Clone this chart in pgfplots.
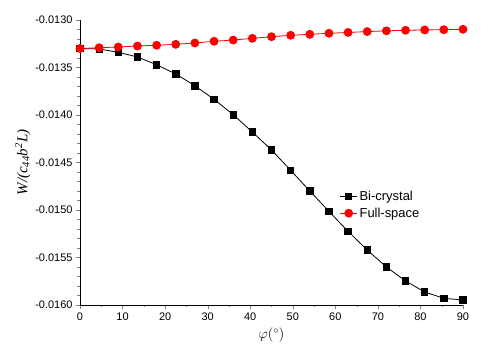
\documentclass[border=0pt]{standalone}
\usepackage{fontspec}
\setmainfont{Liberation Sans}
\newfontfamily\tnr{Liberation Serif}
\usepackage{pgfplots}
\pgfplotsset{compat=1.18}
\usetikzlibrary{calc}
\begin{document}
\begin{tikzpicture}
\begin{axis}[
  name=ax,
  scale only axis,
  width=383bp, height=285bp,
  xmin=0, xmax=90, ymin=-0.0160, ymax=-0.0130,
  axis x line*=bottom, axis y line*=left,
  tick align=outside,
  xtick={0,10,...,90},
  ytick={-0.0160,-0.0155,-0.0150,-0.0145,-0.0140,-0.0135,-0.0130},
  minor x tick num=1,
  minor y tick num=4,
  major tick length=4bp, minor tick length=2.5bp,
  scaled y ticks=false,
  yticklabel style={/pgf/number format/.cd,fixed,fixed zerofill,precision=4},
  /pgf/number format/assume math mode=true,
  tick label style={font=\fontsize{11}{13}\selectfont},
  xlabel={$\varphi(^\circ)$},
  ylabel={{\tnr\itshape W/(c\textsubscript{44}b\textsuperscript{2}L)}},
  xlabel style={font=\fontsize{14}{16}\selectfont, yshift=-1bp},
  ylabel style={font=\fontsize{15}{17}\selectfont, yshift=-2bp},
  legend style={draw=none, fill=none, at={(0.67,0.415)}, anchor=north west, font=\fontsize{13}{15}\selectfont, row sep=2bp},
  legend cell align=left,
  clip=false,
]
\addplot[black, line width=0.8pt, mark=square*, mark size=3.2bp] coordinates {
(0,-0.013300) (4.5,-0.013305) (9,-0.013340) (13.5,-0.013389) (18,-0.013471)
(22.5,-0.013568) (27,-0.013692) (31.5,-0.013835) (36,-0.013997) (40.5,-0.014179)
(45,-0.014368) (49.5,-0.014582) (54,-0.014800) (58.5,-0.015014) (63,-0.015225)
(67.5,-0.015421) (72,-0.015600) (76.5,-0.015747) (81,-0.015863) (85.5,-0.015930)
(90,-0.015947)};
\addlegendentry{Bi-crystal}
\addplot[red, line width=0.8pt, mark=*, mark size=4bp] coordinates {
(0,-0.013300) (4.5,-0.013292) (9,-0.013284) (13.5,-0.013274) (18,-0.013266)
(22.5,-0.013256) (27,-0.013242) (31.5,-0.013224) (36,-0.013211) (40.5,-0.013193)
(45,-0.013176) (49.5,-0.013161) (54,-0.013151) (58.5,-0.013140) (63,-0.013131)
(67.5,-0.013122) (72,-0.013114) (76.5,-0.013108) (81,-0.013105) (85.5,-0.013102)
(90,-0.013098)};
\addlegendentry{Full-space}
\end{axis}
\useasboundingbox ($(ax.south west)+(-80bp,-52bp)$) rectangle +(489bp,357bp);
\end{tikzpicture}
\end{document}
